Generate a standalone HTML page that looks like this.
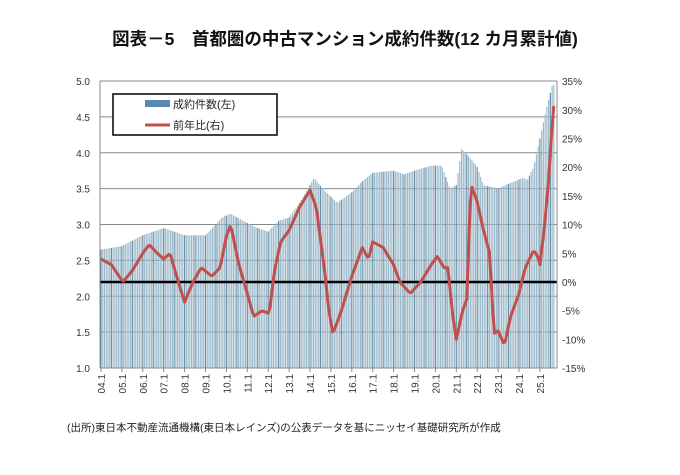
<!DOCTYPE html>
<html><head><meta charset="utf-8"><style>
body{margin:0;background:#fff;width:680px;height:470px;overflow:hidden}
svg text{font-family:"Liberation Sans","Noto Sans CJK JP",sans-serif}
</style></head><body>
<svg id="s" width="680" height="470" xmlns="http://www.w3.org/2000/svg">
<text x="345" y="45" text-anchor="middle" font-size="17.5" font-weight="bold" fill="#111">図表－5　首都圏の中古マンション成約件数(12 カ月累計値)</text>
<g id="grid"></g>
<g id="bars"></g>
<line x1="100" y1="282" x2="557" y2="282" stroke="#000" stroke-width="2.5"/>
<polyline id="ln" fill="none" stroke="#c0504d" stroke-width="3" stroke-linejoin="round"/>
<g id="ax"></g>
<rect x="113" y="94" width="164" height="41" fill="#fff" stroke="#000" stroke-width="1.5"/>
<rect x="145" y="100" width="25" height="7" fill="#5b87b5"/>
<text x="173" y="108" font-size="11" fill="#222">成約件数(左)</text>
<line x1="145" y1="125" x2="170" y2="125" stroke="#c0504d" stroke-width="3"/>
<text x="173" y="129" font-size="11" fill="#222">前年比(右)</text>
<text x="67" y="431" font-size="10.5" fill="#222">(出所)東日本不動産流通機構(東日本レインズ)の公表データを基にニッセイ基礎研究所が作成</text>
</svg>
<script>
const NS="http://www.w3.org/2000/svg";
function el(p,t,a,txt){const e=document.createElementNS(NS,t);for(const k in a)e.setAttribute(k,a[k]);if(txt)e.textContent=txt;document.getElementById(p).appendChild(e);return e;}
const X0=101,PY=20.9;const xf=t=>X0+(t-2004)*PY;
const yl=v=>368-(v-1)*71.75;const yr=p=>282-p*5.74;
for(let v=1;v<=5.001;v+=0.5){el("grid","line",{x1:100,x2:557,y1:yl(v),y2:yl(v),stroke:"#888","stroke-width":1});
el("ax","text",{x:90,y:yl(v)+4,"text-anchor":"end","font-size":10,fill:"#333"},v.toFixed(1));}
for(let p=-15;p<=35;p+=5){el("ax","text",{x:562,y:yr(p)+4,"font-size":10,fill:"#333"},p+"%");}
el("ax","line",{x1:100,x2:100,y1:81,y2:368,stroke:"#888"});
el("ax","line",{x1:557,x2:557,y1:81,y2:368,stroke:"#888"});
el("ax","line",{x1:100,x2:557,y1:368,y2:368,stroke:"#888"});
for(let y=4;y<=25;y++){const x=xf(2000+y);const lab=(y<10?"0":"")+y+".1";
el("ax","line",{x1:x,x2:x,y1:368,y2:372,stroke:"#888"});
el("ax","text",{x:0,y:0,"font-size":10,fill:"#333","text-anchor":"end",transform:`translate(${x+4},374) rotate(-90)`},lab);}
function interp(k,t){for(let i=0;i<k.length-1;i++){if(t<=k[i+1][0]){const a=k[i],b=k[i+1];return a[1]+(b[1]-a[1])*(t-a[0])/(b[0]-a[0]);}}return k[k.length-1][1];}
const B=[[2004,2.65],[2005,2.7],[2006,2.85],[2007,2.95],[2007.5,2.9],[2008,2.85],[2009,2.85],[2009.8,3.1],[2010.2,3.15],[2010.8,3.05],[2011.5,2.95],[2012,2.9],[2012.5,3.05],[2013,3.1],[2013.5,3.3],[2014,3.55],[2014.2,3.65],[2014.6,3.5],[2015.3,3.3],[2016,3.45],[2016.5,3.6],[2017,3.72],[2018,3.75],[2018.5,3.7],[2019,3.75],[2019.8,3.82],[2020.3,3.82],[2020.7,3.5],[2021,3.55],[2021.25,4.05],[2021.6,3.95],[2022,3.8],[2022.3,3.55],[2023,3.5],[2023.6,3.58],[2024.2,3.65],[2024.4,3.62],[2024.7,3.8],[2025,4.2],[2025.3,4.6],[2025.6,4.95]];
const L=[[2004,4],[2004.5,3],[2005.05,0],[2005.5,2],[2006,5],[2006.3,6.5],[2006.7,5],[2007,4],[2007.3,5],[2007.7,0],[2008,-3.5],[2008.4,0],[2008.8,2.5],[2009.3,1],[2009.7,2.5],[2010,8],[2010.2,10],[2010.6,3],[2011,-2],[2011.3,-6],[2011.7,-5],[2012.05,-5.5],[2012.3,2],[2012.6,7],[2013,9],[2013.5,13],[2014,16],[2014.3,13],[2014.7,2],[2014.9,-5],[2015.1,-9],[2015.5,-5],[2016,1],[2016.5,6],[2016.8,4],[2017,7],[2017.5,6],[2018,3],[2018.3,0],[2018.8,-2],[2019.3,0],[2019.8,3],[2020.1,4.5],[2020.4,2.5],[2020.6,2.5],[2020.8,-5],[2021,-10],[2021.3,-5],[2021.5,-3],[2021.7,17],[2022,14],[2022.3,9],[2022.6,5],[2022.8,-9],[2023,-8.5],[2023.3,-11],[2023.6,-6],[2024,-2],[2024.3,2.5],[2024.7,5.5],[2024.9,4.5],[2025,3],[2025.2,9],[2025.4,17],[2025.6,28],[2025.7,32]];
let pts=[];
for(let m=0;m<=260;m++){const t=2004+m/12;if(t>2025.72)break;const x=xf(t);
const v=interp(B,t);el("bars","rect",{x:x-0.6,y:yl(v),width:1.2,height:368-yl(v),fill:(m%6==0)?"#6a8fa8":"#9dbacb"});
pts.push(x.toFixed(1)+","+yr(interp(L,t)).toFixed(1));}
document.getElementById("ln").setAttribute("points",pts.join(" "));
</script>
</body></html>
